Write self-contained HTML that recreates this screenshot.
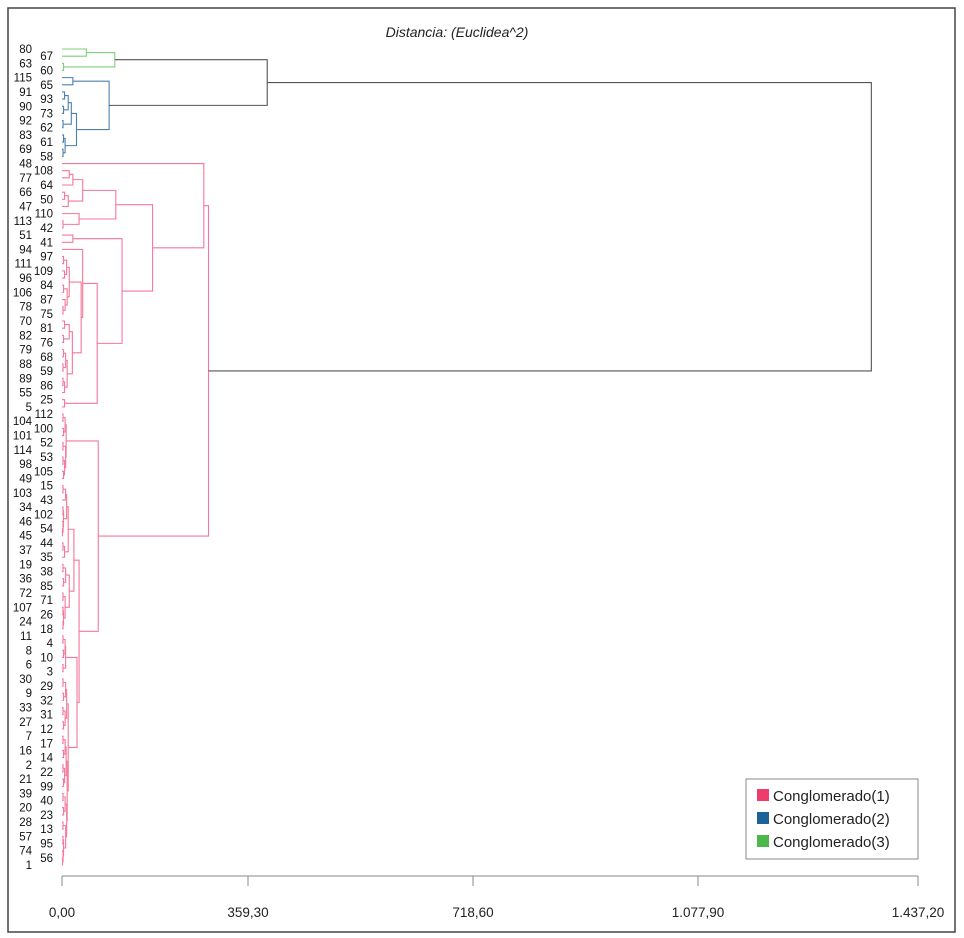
<!DOCTYPE html>
<html><head><meta charset="utf-8">
<style>
html,body{margin:0;padding:0;background:#fff;}
svg{display:block;font-family:"Liberation Sans",sans-serif;}
</style></head>
<body>
<svg id="chart" width="964" height="938" viewBox="0 0 964 938">
<rect x="8" y="8" width="947" height="924" fill="#fff" stroke="#444" stroke-width="1.5"/>
<text x="457" y="37" text-anchor="middle" font-style="italic" font-size="14" fill="#222">Distancia: (Euclidea^2)</text>
<g id="links"></g>
<g id="labels"></g>
<g id="axis"></g>
<g>
<rect x="746" y="779" width="172" height="80" fill="#fff" stroke="#888"/>
<rect x="757" y="789" width="12" height="12" fill="#f03c6c"/>
<text x="773" y="801" font-size="15" fill="#222">Conglomerado(1)</text>
<rect x="757" y="812" width="12" height="12" fill="#1c6497"/>
<text x="773" y="824" font-size="15" fill="#222">Conglomerado(2)</text>
<rect x="757" y="835" width="12" height="12" fill="#4cb84c"/>
<text x="773" y="847" font-size="15" fill="#222">Conglomerado(3)</text>
</g>
</svg>
<script>
// Tick values and labels of the distance axis
const tickValues = [0, 359.3, 718.6, 1077.9, 1437.2];
const tickLabels = ["0,00", "359,30", "718,60", "1.077,90", "1.437,20"];
// Cluster boundaries (leaf index where cluster starts) and colours
const clusterStarts = [0, 4, 16];
const clusterColors = ["#7ccf7c", "#4f80ad", "#f5779a"];
const topLinkHeightCut = 350;
// Dendrogram structure: (left,right)height, heights in distance units
const treeSpec = "((((80,67)47,(63,60)3)102,((115,65)21,((((91,93)5,(90,73)3)12,(92,62)2)18,((83,61)3,(69,58)2)6)28)91)390," +
 "((48,(((((108,77)14,64)21,((66,50)5,47)12)40,(110,(113,42)2)33)104,((51,41)21,((94,((((97,111)3,(109,96)5)9,((84,106)3,(87,(78,75)2)6)10)14,(((70,81)5,(82,76)3)14,(((79,68)3,(88,59)2)7,((89,86)2,55)5)10)20)37)40,(25,5)5)68)116)175)274," +
 "((((112,104)2,(100,101)3)6,((52,114)2,((53,98)2,(105,49)3)5)7)8," +
 "((((((15,103)2,43)7,((34,102)2,(46,(54,45)1)2)3)9,((44,37)2,35)5)12,(((19,38)2,(36,85)3)7,((72,71)2,((107,26)2,(24,18)2)3)6)14)23," +
 "((((11,4)2,(8,10)3)6,(6,3)2)7,((((30,29)2,(9,32)3)7,((33,31)2,(27,12)3)6)9,((((7,17)2,(16,14)3)6,((2,22)2,(21,99)3)5)8,(((39,40)2,(20,23)3)6,((28,13)2,((57,95)2,(74,(56,1)1)2)3)7)9)10)12)29)33)70)283)1361";

const tickX = [62, 248, 473, 698, 918];
function xScale(v){
  for(let i=0;i<tickValues.length-1;i++){
    if(v<=tickValues[i+1]||i===tickValues.length-2){
      const t=(v-tickValues[i])/(tickValues[i+1]-tickValues[i]);
      return tickX[i]+t*(tickX[i+1]-tickX[i]);
    }
  }
}
const y0=49, yStep=(865-49)/114;
function yScale(i){return y0+i*yStep;}

let pos=0; const leaves=[];
function parse(){
  if(treeSpec[pos]==='('){
    pos++; const a=parse(); pos++; const b=parse(); pos++;
    let s=''; while(pos<treeSpec.length && /[0-9.]/.test(treeSpec[pos])) s+=treeSpec[pos++];
    return {l:a,r:b,h:parseFloat(s)};
  } else {
    let s=''; while(/[0-9]/.test(treeSpec[pos])) s+=treeSpec[pos++];
    leaves.push(s); return {leaf:s,idx:leaves.length-1,h:0};
  }
}
const root=parse();
const NS="http://www.w3.org/2000/svg";
const links=document.getElementById('links');
function colorFor(idx){let c=0;for(let i=0;i<clusterStarts.length;i++) if(idx>=clusterStarts[i]) c=i;return clusterColors[c];}
function layout(n){
  if(n.leaf!==undefined){n.y=yScale(n.idx);n.first=n.idx;return;}
  layout(n.l);layout(n.r);
  n.y=(n.l.y+n.r.y)/2;n.first=n.l.first;
  const x=xScale(n.h);
  const col=n.h>topLinkHeightCut?"#555":colorFor(n.first);
  const p=document.createElementNS(NS,'path');
  p.setAttribute('d',`M${xScale(n.l.h)},${n.l.y}H${x}V${n.r.y}H${xScale(n.r.h)}`);
  p.setAttribute('fill','none');p.setAttribute('stroke',col);p.setAttribute('stroke-width','1.1');
  
  
  links.appendChild(p);
}
layout(root);
const labels=document.getElementById('labels');
leaves.forEach((lab,i)=>{
  const t=document.createElementNS(NS,'text');
  t.setAttribute('x',i%2===0?32:53);t.setAttribute('y',yScale(i)+4);
  t.setAttribute('text-anchor','end');t.setAttribute('font-size','11.5');t.setAttribute('fill','#111');
  t.textContent=lab;
  
  
  labels.appendChild(t);
});
const axis=document.getElementById('axis');
const al=document.createElementNS(NS,'path');
al.setAttribute('d',`M${xScale(tickValues[0])},876H${xScale(tickValues[tickValues.length-1])}`);
al.setAttribute('stroke','#888');al.setAttribute('fill','none');


axis.appendChild(al);
tickValues.forEach((v,i)=>{
  const x=xScale(v);
  const tk=document.createElementNS(NS,'line');
  tk.setAttribute('x1',x);tk.setAttribute('x2',x);tk.setAttribute('y1',876);tk.setAttribute('y2',886);tk.setAttribute('stroke','#888');
  
  
  axis.appendChild(tk);
  const t=document.createElementNS(NS,'text');
  t.setAttribute('x',x);t.setAttribute('y',917);t.setAttribute('text-anchor','middle');t.setAttribute('font-size','13.5');t.setAttribute('fill','#222');
  t.textContent=tickLabels[i];
  
  
  axis.appendChild(t);
});
</script>
</body></html>
